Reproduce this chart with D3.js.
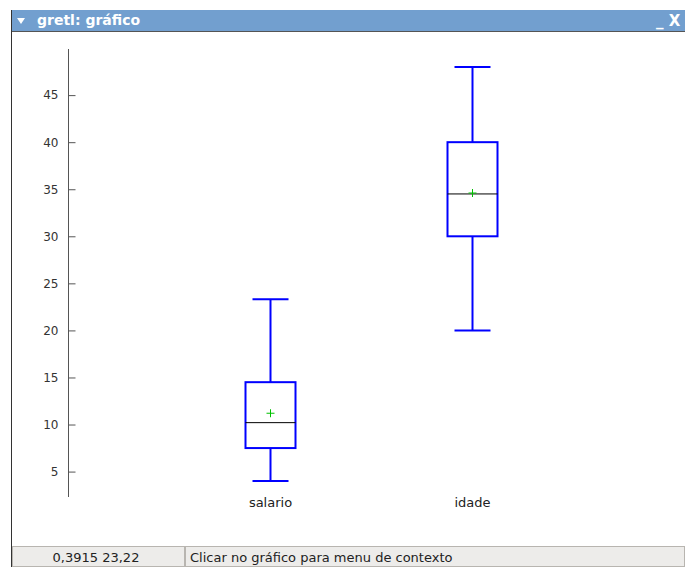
<!DOCTYPE html>
<html>
<head>
<meta charset="utf-8">
<script src="https://cdn.jsdelivr.net/npm/d3@7"></script>
<style>
  body { margin: 0; background: #fff; }
  text { font-family: "DejaVu Sans", sans-serif; }
</style>
</head>
<body>
<svg id="chart"></svg>
<script>
// box plot data
const series = ["salario", "idade"];
const mins = [4.0, 20];
const q1s = [7.5, 30];
const medians = [10.2, 34.5];
const q3s = [14.5, 40];
const maxs = [23.3, 48];
const means = [11.2, 34.6];
const yTicks = [5, 10, 15, 20, 25, 30, 35, 40, 45];

const W = 685, H = 567;

const svg = d3.select("#chart")
    .attr("width", W)
    .attr("height", H);

// window frame
svg.append("rect")
    .attr("x", 11).attr("y", 10)
    .attr("width", W - 11).attr("height", 22)
    .attr("fill", "#729fcf");
svg.append("line")
    .attr("x1", 11).attr("x2", W)
    .attr("y1", 31.5).attr("y2", 31.5)
    .attr("stroke", "#555");
svg.append("line")
    .attr("x1", 11.5).attr("x2", 11.5)
    .attr("y1", 10).attr("y2", H)
    .attr("stroke", "#333");

svg.append("path")
    .attr("d", "M17,18 L25,18 L21,24 Z")
    .attr("fill", "#fff");
svg.append("text")
    .attr("x", 37).attr("y", 25)
    .attr("fill", "#fff")
    .style("font-size", "14px")
    .style("font-weight", "bold")
    .text("gretl: gráfico");
svg.append("text")
    .attr("x", 656).attr("y", 26)
    .attr("fill", "#fff")
    .style("font-size", "15px")
    .style("font-weight", "bold")
    .text("_ X");

// status bar
svg.append("rect")
    .attr("x", 12).attr("y", 546)
    .attr("width", W - 12).attr("height", H - 546)
    .attr("fill", "#edecea");
svg.append("rect")
    .attr("x", 12.5).attr("y", 546.5)
    .attr("width", 172).attr("height", 20)
    .attr("fill", "none").attr("stroke", "#b8b5b0");
svg.append("rect")
    .attr("x", 185.5).attr("y", 546.5)
    .attr("width", W - 186).attr("height", 20)
    .attr("fill", "none").attr("stroke", "#b8b5b0");
svg.append("text")
    .attr("x", 96).attr("y", 562)
    .attr("text-anchor", "middle")
    .style("font-size", "13px")
    .attr("fill", "#222")
    .text("0,3915 23,22");
svg.append("text")
    .attr("x", 190).attr("y", 562)
    .style("font-size", "13px")
    .attr("fill", "#222")
    .text("Clicar no gráfico para menu de contexto");

// plot
const yScale = d3.scaleLinear()
    .domain([2.3, 49.9])
    .range([497, 49]);

const xScale = d3.scalePoint()
    .domain(series)
    .range([270, 472]);

const g = svg.append("g");

g.append("g")
    .attr("class", "y-axis")
    .attr("transform", "translate(68.5,0)")
    .call(d3.axisRight(yScale)
        .tickValues(yTicks)
        .tickSize(7)
        .tickSizeOuter(0)
        .tickFormat(d3.format("d")))
    .call(a => a.select(".domain").attr("stroke", "#555"))
    .call(a => a.selectAll(".tick line").attr("stroke", "#555"))
    .call(a => a.selectAll(".tick text")
        .attr("x", -10)
        .attr("text-anchor", "end")
        .attr("fill", "#333")
        .style("font-size", "12px")
        .style("font-family", "DejaVu Sans, sans-serif"));

g.select(".y-axis .domain").attr("d", "M0," + yScale.range()[0] + "V" + yScale.range()[1]);

const boxW = 50, capW = 36;
const blue = "#0000ff";

series.forEach(function (s, i) {
    const cx = Math.round(xScale(s)) + 0.5;
    const b = g.append("g");

    // whiskers
    b.append("line")
        .attr("x1", cx).attr("x2", cx)
        .attr("y1", yScale(q3s[i])).attr("y2", yScale(maxs[i]))
        .attr("stroke", blue).attr("stroke-width", 2);
    b.append("line")
        .attr("x1", cx).attr("x2", cx)
        .attr("y1", yScale(q1s[i])).attr("y2", yScale(mins[i]))
        .attr("stroke", blue).attr("stroke-width", 2);
    [maxs[i], mins[i]].forEach(function (v) {
        b.append("line")
            .attr("x1", cx - capW / 2).attr("x2", cx + capW / 2)
            .attr("y1", yScale(v)).attr("y2", yScale(v))
            .attr("stroke", blue).attr("stroke-width", 2);
    });

    // box
    b.append("rect")
        .attr("x", cx - boxW / 2)
        .attr("y", yScale(q3s[i]))
        .attr("width", boxW)
        .attr("height", yScale(q1s[i]) - yScale(q3s[i]))
        .attr("fill", "none")
        .attr("stroke", blue).attr("stroke-width", 2);

    // median
    b.append("line")
        .attr("x1", cx - boxW / 2).attr("x2", cx + boxW / 2)
        .attr("y1", yScale(medians[i])).attr("y2", yScale(medians[i]))
        .attr("stroke", "#000").attr("stroke-width", 1);

    // mean
    const my = yScale(means[i]);
    b.append("path")
        .attr("d", "M" + (cx - 4) + "," + my + "H" + (cx + 4) + "M" + cx + "," + (my - 4) + "V" + (my + 4))
        .attr("stroke", "#00c000").attr("stroke-width", 1);

    // label
    b.append("text")
        .attr("x", cx).attr("y", 507)
        .attr("text-anchor", "middle")
        .style("font-size", "13px")
        .attr("fill", "#222")
        .text(s);
});
</script>
</body>
</html>
